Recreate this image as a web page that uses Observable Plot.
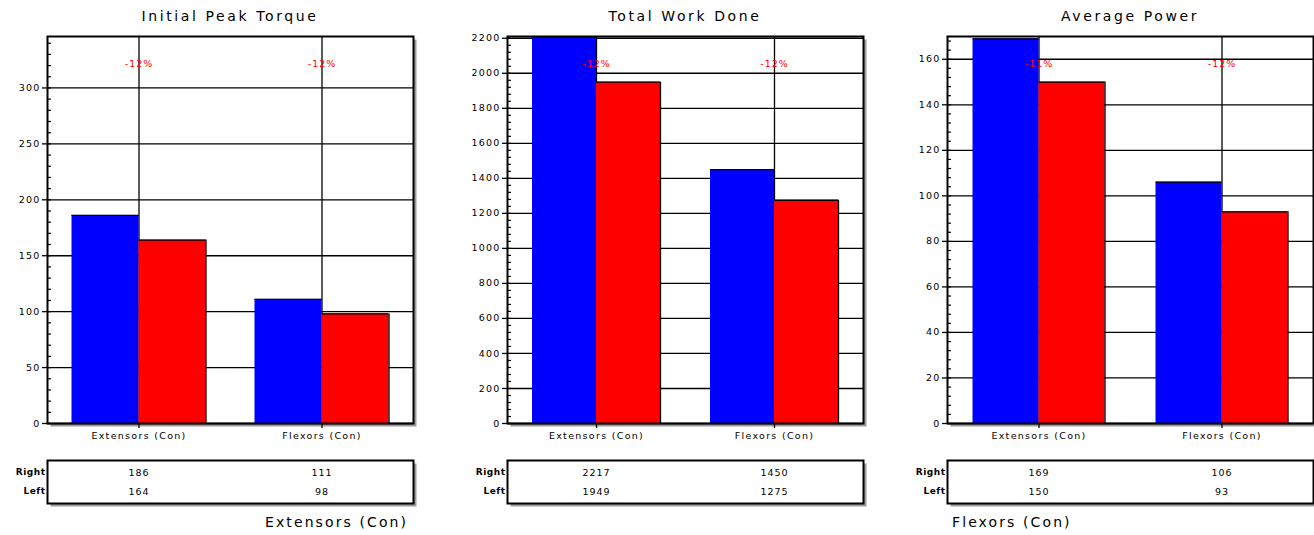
<!DOCTYPE html>
<html><head><meta charset="utf-8">
<script src="https://cdn.jsdelivr.net/npm/d3@7"></script>
<script src="https://cdn.jsdelivr.net/npm/@observablehq/plot@0.6"></script>
<style>
body{margin:0;background:#fff;font-family:"DejaVu Sans",sans-serif;}
#root{position:relative;width:1314px;height:535px;overflow:hidden;background:#fff;}
.title{font-size:14px;letter-spacing:2.6px;white-space:nowrap;transform:translateX(-50%);color:#000;}
.foot{font-size:14px;letter-spacing:2.1px;white-space:nowrap;color:#000;}
svg{overflow:visible;}
svg.chart g[aria-label="y-axis tick label"] text{letter-spacing:1.2px;}
svg.chart g[aria-label="x-axis tick label"] text{letter-spacing:1.3px;}
svg.chart g[aria-label="text"] text{letter-spacing:1px;}
svg.tbl g[aria-label="text"] text{letter-spacing:1px;}
svg.tbl g[aria-label="y-axis tick label"] text{letter-spacing:0.5px;}
</style></head><body><div id="root"></div>
<script>
const categories = ["Extensors (Con)", "Flexors (Con)"];
const sides = ["Right", "Left"];
const titles = ["Initial Peak Torque", "Total Work Done", "Average Power"];
const torqueRight = [186, 111];
const torqueLeft = [164, 98];
const workRight = [2217, 1450];
const workLeft = [1949, 1275];
const powerRight = [169, 106];
const powerLeft = [150, 93];
const torqueTicks = [0, 50, 100, 150, 200, 250, 300];
const workTicks = [0, 200, 400, 600, 800, 1000, 1200, 1400, 1600, 1800, 2000, 2200];
const powerTicks = [0, 20, 40, 60, 80, 100, 120, 140, 160];
const torqueMax = 346, workMax = 2210, powerMax = 170;
const footLabels = ["Extensors (Con)", "Flexors (Con)"];

const panels = [
  {title: titles[0], right: torqueRight, left: torqueLeft, ticks: torqueTicks, max: torqueMax, minorStep: 10, x0: 0, ml: 47, fw: 366, bw: 67},
  {title: titles[1], right: workRight, left: workLeft, ticks: workTicks, max: workMax, minorStep: 40, x0: 440, ml: 67, fw: 356, bw: 64},
  {title: titles[2], right: powerRight, left: powerLeft, ticks: powerTicks, max: powerMax, minorStep: 4, x0: 880, ml: 67, fw: 366, bw: 66}
];

const root = document.getElementById("root");
const FONT = "DejaVu Sans, sans-serif";

function place(el, left, top) {
  el.style.position = "absolute";
  el.style.left = left + "px";
  el.style.top = top + "px";
  root.appendChild(el);
}

panels.forEach(p => {
  const rows = [];
  categories.forEach((c, i) => {
    rows.push({category: c, side: "Right", value: p.right[i]});
    rows.push({category: c, side: "Left", value: p.left[i]});
  });
  const rightRows = rows.filter(d => d.side === "Right");
  const leftRows = rows.filter(d => d.side === "Left");
  const pct = categories.map((c, i) => ({category: c, text: Math.round((p.left[i] - p.right[i]) / p.right[i] * 100) + "%"}));
  const minors = d3.range(0, p.max, p.minorStep);
  const half = p.fw / 4;
  const mt = 10, mb = 30, plotH = 387;
  const W = p.ml + p.fw + 6;

  const chart = Plot.plot({
    width: W, height: mt + plotH + mb,
    marginLeft: p.ml, marginRight: 6, marginTop: mt, marginBottom: mb,
    className: "chart",
    style: {fontFamily: FONT, background: "transparent", overflow: "visible"},
    x: {type: "band", domain: categories, padding: 0, label: null},
    y: {domain: [0, p.max], label: null},
    marks: [
      Plot.frame({fill: "#9c9c9c", dx: 3, dy: 3}),
      Plot.frame({fill: "white"}),
      Plot.gridY(p.ticks, {stroke: "black", strokeOpacity: 1, strokeWidth: 1.3}),
      Plot.gridX(categories, {stroke: "black", strokeOpacity: 1, strokeWidth: 1.3}),
      Plot.barY(rightRows, {x: "category", y: "value", fill: "#0000ff", insetLeft: half - p.bw, insetRight: half, clip: true}),
      Plot.barY(leftRows, {x: "category", y: "value", fill: "#ff0000", insetLeft: half, insetRight: half - p.bw, clip: true}),
      Plot.tickY(rightRows, {x: "category", y: "value", stroke: "black", strokeWidth: 1.3, insetLeft: half - p.bw, insetRight: half, clip: true}),
      Plot.tickY(leftRows, {x: "category", y: "value", stroke: "black", strokeWidth: 1.3, insetLeft: half, insetRight: half - p.bw, clip: true}),
      Plot.ruleX(leftRows, {x: "category", y1: 0, y2: "value", dx: p.bw, stroke: "black", strokeWidth: 1.3, clip: true}),
      Plot.text(pct, {x: "category", text: "text", frameAnchor: "top", dy: 24, fill: "#ff0000", fontSize: 9.5}),
      Plot.frame({stroke: "black", strokeWidth: 2}),
      Plot.axisY(minors, {tickSize: 4, dx: 4, text: null, stroke: "black", strokeWidth: 1.2}),
      Plot.axisY(p.ticks, {tickSize: 5, tickPadding: 2, fontSize: 9.5, stroke: "black", strokeWidth: 1.3, fill: "black", tickFormat: d => String(d)}),
      Plot.axisX(categories, {tickSize: 5, tickPadding: 4, fontSize: 9.5, stroke: "black", strokeWidth: 1.3, fill: "black"})
    ]
  });
  place(chart, p.x0, 26);

  const title = document.createElement("div");
  title.className = "title";
  title.textContent = p.title;
  place(title, p.x0 + p.ml + p.fw / 2, 8);

  const table = Plot.plot({
    width: W, height: 50,
    marginLeft: p.ml, marginRight: 6, marginTop: 2, marginBottom: 5,
    className: "tbl",
    style: {fontFamily: FONT, background: "transparent", overflow: "visible"},
    x: {type: "band", domain: categories, padding: 0, axis: null},
    y: {type: "point", domain: sides, padding: 0.63, label: null},
    marks: [
      Plot.frame({fill: "#9c9c9c", dx: 3, dy: 3}),
      Plot.frame({fill: "white", stroke: "black", strokeWidth: 2}),
      Plot.text(rows, {x: "category", y: "side", text: d => String(d.value), fontSize: 9.5, fill: "black"}),
      Plot.axisY(sides, {tickSize: 0, tickPadding: 2, fontSize: 9, fontWeight: "bold", fill: "black"})
    ]
  });
  place(table, p.x0, 458);
});

const f1 = document.createElement("div");
f1.className = "foot"; f1.textContent = footLabels[0];
place(f1, 265, 514);
const f2 = document.createElement("div");
f2.className = "foot"; f2.textContent = footLabels[1];
place(f2, 952, 514);
</script></body></html>
